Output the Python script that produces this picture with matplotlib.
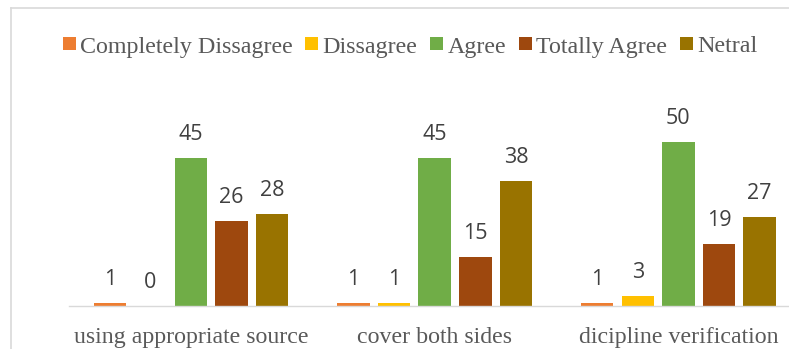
import numpy as np
import matplotlib
matplotlib.use("Agg")
import matplotlib.pyplot as plt
from matplotlib.lines import Line2D

# data
categories = ["using appropriate source", "cover both sides", "dicipline verification"]
series_names = ["Completely Dissagree", "Dissagree", "Agree", "Totally Agree", "Netral"]
completely_disagree = [1, 1, 1]
disagree = [0, 1, 3]
agree = [45, 45, 50]
totally_agree = [26, 15, 19]
netral = [28, 38, 27]
series_values = [completely_disagree, disagree, agree, totally_agree, netral]
colors = ["#ED7D31", "#FFC000", "#70AD47", "#9E480E", "#997300"]

serif = "Liberation Serif"
sans = "Open Sans"
text_grey = "#595959"

fig = plt.figure(figsize=(7.89, 3.49), dpi=100)
ax = fig.add_axes([69.2 / 789, 43 / 349, 731 / 789, 197 / 349])

x = np.arange(len(categories))
step = 1 / 6
width = 0.8 * step
for j, (name, vals, col) in enumerate(zip(series_names, series_values, colors)):
    pos = x + (j - 2) * step
    bars = ax.bar(pos, vals, width=width, color=col, label=name)
    for b, v in zip(bars, vals):
        ax.annotate(str(v), (b.get_x() + b.get_width() / 2, v),
                    xytext=(0, 13), textcoords="offset points",
                    ha="center", va="baseline", fontsize=15.5,
                    family=sans, color="#404040")

ax.set_xlim(-0.5, 2.5)
ax.set_ylim(0, 60)
for s in ["left", "right", "top"]:
    ax.spines[s].set_visible(False)
ax.spines["bottom"].set_color("#d9d9d9")
ax.spines["bottom"].set_linewidth(1.0)
ax.set_yticks([])
ax.set_xticks(x)
ax.set_xticklabels(categories, family=serif, fontsize=17.2, color=text_grey)
ax.tick_params(axis="x", length=0, pad=15)

fig.legend(loc="center", bbox_to_anchor=(410 / 789, 1 - 47 / 349), ncol=5,
           frameon=False, prop={"family": serif, "size": 17.3},
           labelcolor=text_grey, handlelength=0.54, handleheight=0.45,
           handletextpad=0.17, columnspacing=0.54, borderpad=0)

# chart frame (cropped: only top and left edges visible)
fig.add_artist(Line2D([11 / 789, 11 / 789], [0, 1 - 8 / 349], transform=fig.transFigure,
                      color="#d9d9d9", lw=1.2))
fig.add_artist(Line2D([11 / 789, 1], [1 - 8 / 349, 1 - 8 / 349], transform=fig.transFigure,
                      color="#d9d9d9", lw=1.2))

fig.savefig("out.png", dpi=100)
